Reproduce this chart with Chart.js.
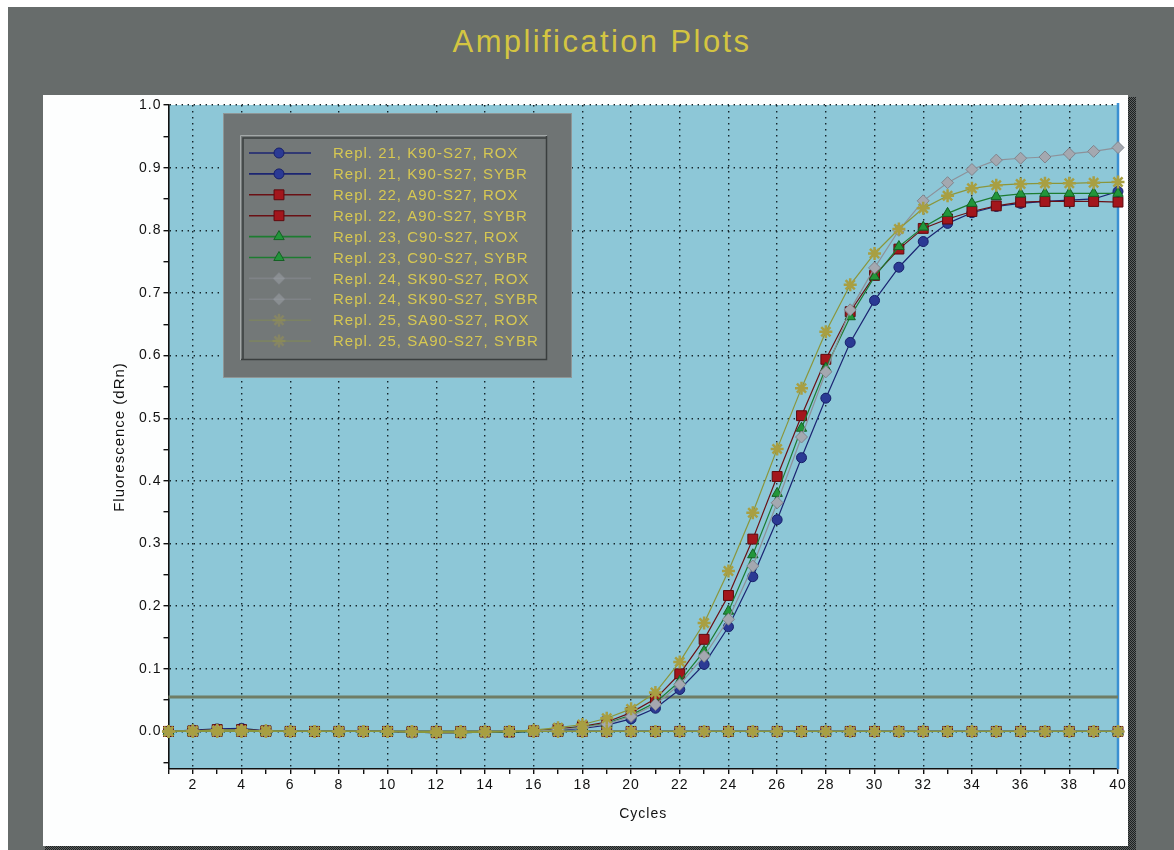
<!DOCTYPE html>
<html>
<head>
<meta charset="utf-8">
<title>Amplification Plots</title>
<script src="https://cdn.jsdelivr.net/npm/chart.js@4/dist/chart.umd.min.js"></script>
<style>
  html, body { margin: 0; padding: 0; background: #ffffff; }
  #page { position: relative; width: 1174px; height: 850px; overflow: hidden; background: #ffffff; }
  #frame { position: absolute; left: 8px; top: 7px; width: 1166px; height: 843px; background: #676c6b; }
  #panel { position: absolute; left: 43px; top: 95px; width: 1085px; height: 751px; background: #fdfefe; }
  .shade { position: absolute; background: repeating-conic-gradient(#1c2020 0 25%, #5c6060 0 50%) 0 0 / 2px 2px; }
  #shadeR { left: 1128px; top: 97px; width: 8px; height: 753px; }
  #shadeB { left: 45px; top: 846px; width: 1091px; height: 4px; }
  #title { position: absolute; left: 302px; top: 26px; width: 600px; text-align: center;
           font: 31px 'Liberation Sans', Arial, sans-serif; line-height: 31px; letter-spacing: 2.4px; color: #d4c541; }
  canvas { position: absolute; left: 0; top: 0; }
</style>
</head>
<body>
<div id="page">
  <div id="frame"></div>
  <div id="panel"></div>
  <div class="shade" id="shadeR"></div>
  <div class="shade" id="shadeB"></div>
  <div id="title">Amplification Plots</div>
  <canvas id="chart" width="1174" height="850"></canvas>
</div>
<script>
// Cycle numbers (x values)
const cycles = [1, 2, 3, 4, 5, 6, 7, 8, 9, 10, 11, 12, 13, 14, 15, 16, 17, 18, 19, 20,
                21, 22, 23, 24, 25, 26, 27, 28, 29, 30, 31, 32, 33, 34, 35, 36, 37, 38, 39, 40];

// Series names, in legend order
const seriesLabels = [
  'Repl. 21, K90-S27, ROX', 'Repl. 21, K90-S27, SYBR',
  'Repl. 22, A90-S27, ROX', 'Repl. 22, A90-S27, SYBR',
  'Repl. 23, C90-S27, ROX', 'Repl. 23, C90-S27, SYBR',
  'Repl. 24, SK90-S27, ROX', 'Repl. 24, SK90-S27, SYBR',
  'Repl. 25, SA90-S27, ROX', 'Repl. 25, SA90-S27, SYBR'
];

// Fluorescence (dRn) per cycle
const k90Rox  = [0, 0, 0, 0, 0, 0, 0, 0, 0, 0, 0, 0, 0, 0, 0, 0, 0, 0, 0, 0,
                 0, 0, 0, 0, 0, 0, 0, 0, 0, 0, 0, 0, 0, 0, 0, 0, 0, 0, 0, 0];
const k90Sybr = [0, 0.002, 0.004, 0.005, 0.001, 0, 0, 0, 0, 0, -0.001, -0.002, -0.002, -0.001, -0.001, 0, 0.002, 0.005, 0.010, 0.020,
                 0.037, 0.067, 0.107, 0.167, 0.247, 0.338, 0.437, 0.532, 0.621, 0.688, 0.741, 0.782, 0.811, 0.828, 0.838, 0.843, 0.846, 0.848, 0.850, 0.862];
const a90Rox  = [0, 0, 0, 0, 0, 0, 0, 0, 0, 0, 0, 0, 0, 0, 0, 0, 0, 0, 0, 0,
                 0, 0, 0, 0, 0, 0, 0, 0, 0, 0, 0, 0, 0, 0, 0, 0, 0, 0, 0, 0];
const a90Sybr = [0, 0.001, 0.003, 0.003, 0.001, 0, 0, 0, 0, 0, -0.001, -0.002, -0.002, -0.001, -0.001, 0.001, 0.004, 0.008, 0.015, 0.030,
                 0.052, 0.092, 0.147, 0.217, 0.307, 0.407, 0.504, 0.594, 0.670, 0.728, 0.770, 0.803, 0.818, 0.830, 0.839, 0.845, 0.846, 0.846, 0.846, 0.845];
const c90Rox  = [0, 0, 0, 0, 0, 0, 0, 0, 0, 0, 0, 0, 0, 0, 0, 0, 0, 0, 0, 0,
                 0, 0, 0, 0, 0, 0, 0, 0, 0, 0, 0, 0, 0, 0, 0, 0, 0, 0, 0, 0];
const c90Sybr = [0, 0.001, 0.002, 0.002, 0.001, 0, 0, 0, 0, 0, -0.001, -0.001, -0.002, -0.001, -0.001, 0, 0.003, 0.007, 0.013, 0.026,
                 0.046, 0.080, 0.128, 0.192, 0.282, 0.380, 0.484, 0.580, 0.662, 0.726, 0.774, 0.805, 0.827, 0.843, 0.854, 0.858, 0.859, 0.859, 0.859, 0.859];
const sk90Rox  = [0, 0, 0, 0, 0, 0, 0, 0, 0, 0, 0, 0, 0, 0, 0, 0, 0, 0, 0, 0,
                  0, 0, 0, 0, 0, 0, 0, 0, 0, 0, 0, 0, 0, 0, 0, 0, 0, 0, 0, 0];
const sk90Sybr = [0, 0.001, 0.002, 0.002, 0, 0, 0, 0, 0, 0, -0.001, -0.001, -0.001, -0.001, 0, 0, 0.003, 0.006, 0.012, 0.024,
                  0.043, 0.075, 0.120, 0.179, 0.264, 0.365, 0.470, 0.574, 0.673, 0.740, 0.800, 0.847, 0.876, 0.897, 0.912, 0.915, 0.917, 0.922, 0.926, 0.932];
const sa90Rox  = [0, 0, 0, 0, 0, 0, 0, 0, 0, 0, 0, 0, 0, 0, 0, 0, 0, 0, 0, 0,
                  0, 0, 0, 0, 0, 0, 0, 0, 0, 0, 0, 0, 0, 0, 0, 0, 0, 0, 0, 0];
const sa90Sybr = [0, 0.001, 0.002, 0.002, 0.001, 0, 0, 0, 0, 0, -0.001, -0.002, -0.002, -0.001, 0, 0.002, 0.006, 0.011, 0.021, 0.036,
                  0.062, 0.111, 0.173, 0.256, 0.349, 0.451, 0.548, 0.638, 0.713, 0.763, 0.802, 0.835, 0.855, 0.867, 0.872, 0.874, 0.875, 0.875, 0.876, 0.877];

// Threshold level
const threshold = 0.055;

// Axis tick positions (labels shown on every other one)
const xTickValues = cycles;
const yTickValues = [-0.05, 0, 0.05, 0.1, 0.15, 0.2, 0.25, 0.3, 0.35, 0.4, 0.45, 0.5,
                     0.55, 0.6, 0.65, 0.7, 0.75, 0.8, 0.85, 0.9, 0.95, 1.0];

const seriesValues = [k90Rox, k90Sybr, a90Rox, a90Sybr, c90Rox, c90Sybr, sk90Rox, sk90Sybr, sa90Rox, sa90Sybr];

// One look per sample; the ROX and SYBR traces of a sample share it
const sampleLooks = [
  { point: 'circle',  radius: 5,   fill: '#2b3a94', edge: '#17206a', edgeW: 1,   line: '#1b2572', legendAlpha: 1 },
  { point: 'rect',    radius: 7,   fill: '#a3161c', edge: '#5e0a0e', edgeW: 1,   line: '#6a1014', legendAlpha: 1 },
  { point: 'triangle',radius: 6,   fill: '#22963a', edge: '#146024', edgeW: 1,   line: '#1d7c30', legendAlpha: 1 },
  { point: 'rectRot', radius: 6,   fill: '#a4a8b0', edge: '#80848c', edgeW: 1,   line: '#8d9199', legendAlpha: 0.45 },
  { point: 'star',    radius: 6.5, fill: '#aca244', edge: '#a89f42', edgeW: 2.5, line: '#8a963c', legendAlpha: 0.35 }
];

const datasets = seriesValues.map((vals, i) => {
  const look = sampleLooks[Math.floor(i / 2)];
  return {
    label: seriesLabels[i],
    data: vals.map((v, k) => ({ x: cycles[k], y: v })),
    borderColor: look.line,
    borderWidth: 1.2,
    pointStyle: look.point,
    pointRadius: look.radius,
    pointBackgroundColor: look.fill,
    pointBorderColor: look.edge,
    pointBorderWidth: look.edgeW,
    tension: 0,
    clip: false,
    order: 20 - i   // later series are painted on top
  };
});

datasets.push({
  label: 'Threshold',
  data: [{ x: cycles[0], y: threshold }, { x: cycles[cycles.length - 1], y: threshold }],
  borderColor: '#6f7d65',
  borderWidth: 3,
  pointRadius: 0,
  clip: false,
  order: 100
});

// Plot background and wider bitmap-like text spacing
const plotBackground = {
  id: 'plotBackground',
  beforeDraw(chart) {
    const { ctx, chartArea: a } = chart;
    ctx.letterSpacing = '1px';
    ctx.save();
    ctx.fillStyle = '#8dc7d7';
    ctx.fillRect(a.left, a.top, a.right - a.left, a.bottom - a.top);
    ctx.restore();
  }
};

// Blue cursor line on the last cycle
const cursorLine = {
  id: 'cursorLine',
  beforeDatasetsDraw(chart) {
    const { ctx, chartArea: a, scales } = chart;
    const x = scales.x.getPixelForValue(cycles[cycles.length - 1]);
    ctx.save();
    ctx.strokeStyle = '#3a8fd2';
    ctx.lineWidth = 2.5;
    ctx.beginPath();
    ctx.moveTo(x, a.top - 2);
    ctx.lineTo(x, a.bottom);
    ctx.stroke();
    ctx.restore();
  }
};

function drawMarker(ctx, look, x, y) {
  if (Chart.helpers && Chart.helpers.drawPoint) {
    ctx.fillStyle = look.fill;
    ctx.strokeStyle = look.edge;
    ctx.lineWidth = look.edgeW;
    Chart.helpers.drawPoint(ctx, { pointStyle: look.point, radius: look.radius, rotation: 0, borderWidth: look.edgeW }, x, y);
  } else {
    ctx.fillStyle = look.fill;
    ctx.beginPath();
    ctx.arc(x, y, look.radius, 0, Math.PI * 2);
    ctx.fill();
  }
}

// Boxed legend inside the plot area
const boxLegend = {
  id: 'boxLegend',
  afterDraw(chart) {
    const { ctx, chartArea: a } = chart;
    const x0 = Math.round(a.left + 54.5), y0 = Math.round(a.top + 8), w = 349, h = 265;
    ctx.save();
    ctx.letterSpacing = '0px';
    ctx.fillStyle = '#6f7474';
    ctx.fillRect(x0, y0, w, h);
    ctx.lineWidth = 1;
    ctx.strokeStyle = '#8f9696';
    ctx.strokeRect(x0 + 0.5, y0 + 0.5, w - 1, h - 1);

    // sunken inner frame
    const gx = x0 + 17, gy = y0 + 22, gw = 307, gh = 225;
    ctx.fillStyle = '#737878';
    ctx.fillRect(gx, gy, gw, gh);
    ctx.strokeStyle = '#a3a8a8';
    ctx.beginPath();
    ctx.moveTo(gx + 0.5, gy + gh); ctx.lineTo(gx + 0.5, gy + 0.5); ctx.lineTo(gx + gw, gy + 0.5);
    ctx.stroke();
    ctx.strokeStyle = '#3a3e3e';
    ctx.lineWidth = 1.5;
    ctx.beginPath();
    ctx.moveTo(gx + 3, gy + gh - 1); ctx.lineTo(gx + 3, gy + 3); ctx.lineTo(gx + gw - 1, gy + 3);
    ctx.moveTo(gx + 1, gy + gh - 0.5); ctx.lineTo(gx + gw - 0.5, gy + gh - 0.5); ctx.lineTo(gx + gw - 0.5, gy + 1);
    ctx.stroke();

    const rowH = 20.9;
    seriesLabels.forEach((label, i) => {
      const look = sampleLooks[Math.floor(i / 2)];
      const cy = y0 + 40 + i * rowH;
      ctx.save();
      ctx.globalAlpha = look.legendAlpha;
      ctx.strokeStyle = look.line;
      ctx.lineWidth = 1.6;
      ctx.beginPath();
      ctx.moveTo(x0 + 26, cy);
      ctx.lineTo(x0 + 88, cy);
      ctx.stroke();
      drawMarker(ctx, look, x0 + 56, cy);
      ctx.restore();

      ctx.save();
      ctx.letterSpacing = '1px';
      ctx.font = "15px 'Liberation Sans', Arial, sans-serif";
      ctx.fillStyle = '#d7c852';
      ctx.textBaseline = 'middle';
      ctx.textAlign = 'left';
      ctx.fillText(label, x0 + 110, cy + 1);
      ctx.restore();
    });
    ctx.restore();
  }
};

const isMajorX = v => Math.round(v) % 2 === 0;
const isMajorY = v => Math.abs(Math.round(v * 100)) % 10 === 0;
const dotColor = '#15252b';

Chart.defaults.font.family = "'Liberation Sans', Arial, sans-serif";
Chart.defaults.font.size = 14;
Chart.defaults.color = '#111111';

new Chart(document.getElementById('chart'), {
  type: 'line',
  data: { datasets },
  options: {
    responsive: false,
    animation: false,
    events: [],
    layout: { padding: { left: 110, top: 105, right: 56, bottom: 21 } },
    plugins: {
      legend: { display: false },
      tooltip: { enabled: false },
      title: { display: false }
    },
    scales: {
      x: {
        type: 'linear',
        min: cycles[0],
        max: cycles[cycles.length - 1],
        afterBuildTicks: s => { s.ticks = xTickValues.map(v => ({ value: v })); },
        afterFit: s => { s.height = 60; },
        ticks: {
          autoSkip: false, maxRotation: 0, minRotation: 0, padding: 3, color: '#111',
          font: { size: 14 },
          callback: v => (isMajorX(v) ? String(v) : '')
        },
        grid: {
          color: c => (c.tick && isMajorX(c.tick.value) ? dotColor : 'rgba(0,0,0,0)'),
          lineWidth: 1.4,
          tickColor: '#111', tickLength: 5, tickWidth: 1.4, tickBorderDash: []
        },
        border: { display: true, color: '#111', width: 1.6, dash: [1.4, 4.6] },
        title: { display: true, text: 'Cycles', color: '#111', font: { size: 14 }, padding: { top: 0, bottom: 6 } }
      },
      y: {
        type: 'linear',
        min: -0.06,
        max: 1.0,
        afterBuildTicks: s => { s.ticks = yTickValues.map(v => ({ value: v })); },
        afterFit: s => { s.width = 58.5; },
        ticks: {
          autoSkip: false, padding: 2, color: '#111',
          font: { size: 14 },
          callback: v => (isMajorY(v) ? v.toFixed(1) : '')
        },
        grid: {
          color: c => (c.tick && isMajorY(c.tick.value) ? dotColor : 'rgba(0,0,0,0)'),
          lineWidth: 1.4,
          tickColor: '#111', tickLength: 5, tickWidth: 1.4, tickBorderDash: []
        },
        border: { display: true, color: '#111', width: 1.6, dash: [1.4, 4.6] },
        title: { display: true, text: 'Fluorescence (dRn)', color: '#111', font: { size: 15 }, padding: { top: 1, bottom: 0 } }
      }
    }
  },
  plugins: [plotBackground, cursorLine, boxLegend]
});
</script>
</body>
</html>
